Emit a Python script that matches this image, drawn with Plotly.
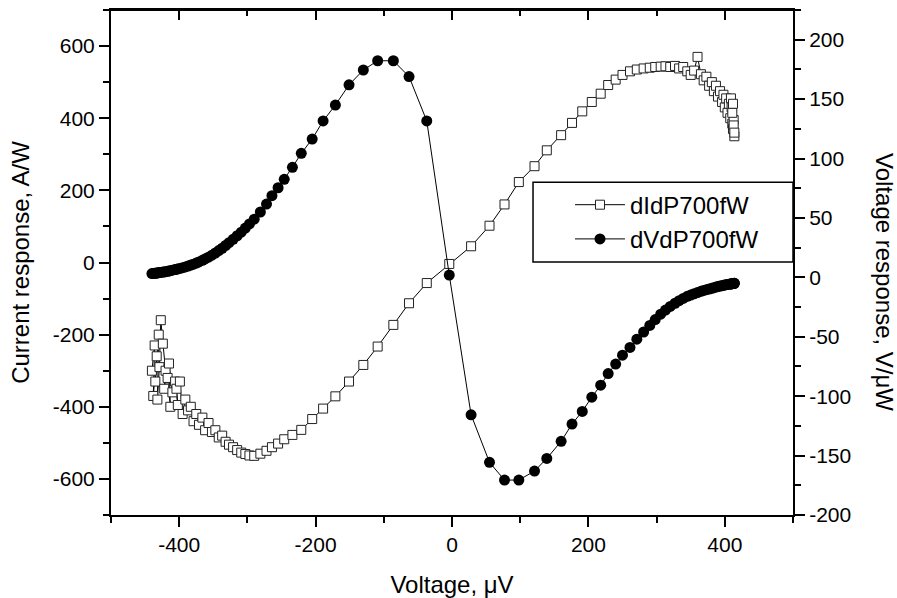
import plotly.graph_objects as go

# ---- data ----
voltage_uV = [
    -440, -436, -438, -433, -435, -430, -432, -429, -427, -424,
    -420, -422, -417, -413, -415, -410, -406, -402, -404, -399,
    -395, -391, -387, -383, -379, -375, -371, -366, -362, -357,
    -352, -347, -342, -337, -332, -327, -321, -315, -309, -303,
    -297, -290, -281, -272, -264, -255, -246, -234, -221, -205,
    -189, -171, -151, -130, -109, -86, -63, -37, -4, 28,
    55, 77, 98, 121, 139, 160, 176, 191, 205, 218,
    229, 240, 250, 261, 271, 281, 290, 298, 306, 313,
    320, 327, 333, 339, 345, 350, 355, 360, 365, 369,
    373, 377, 381, 384, 387, 390, 393, 396, 398, 400,
    402, 404, 406, 408, 409, 411, 410, 412, 413, 411,
    414, 412, 413, 414,
]

current_response_AW = [
    -300, -230, -370, -260, -330, -200, -380, -290, -160, -225,
    -300, -350, -320, -400, -280, -360, -330, -395, -350, -330,
    -420, -380, -410, -400, -440, -420, -450, -430, -465, -445,
    -470, -465, -485, -480, -497, -505, -512, -520, -527, -531,
    -535, -536, -530, -522, -512, -502, -490, -478, -464, -434,
    -405, -371, -330, -284, -233, -173, -113, -57, -4, 45,
    102, 161, 223, 267, 311, 353, 387, 419, 445, 468,
    492, 507, 520, 530, 535, 538, 540, 542, 543, 544,
    542, 545, 538, 542, 530, 520, 532, 570, 522, 505,
    515, 490, 500, 475, 490, 460, 475, 445, 465, 430,
    455, 415, 440, 400, 455, 385, 430, 370, 395, 415,
    350, 440, 380, 360,
]

voltage_response_VuW = [
    3.2, 3.4, 3.3, 3.6, 3.5, 3.9, 3.7, 4.0, 4.1, 4.4,
    4.8, 4.6, 5.1, 5.6, 5.4, 6.0, 6.6, 7.1, 6.9, 7.5,
    8.1, 8.8, 9.5, 10.3, 11.1, 12.0, 13.0, 14.3, 15.5, 17.0,
    18.7, 20.5, 22.5, 24.5, 26.8, 29.2, 32.0, 35.0, 38.0, 41.5,
    45.0, 49.0, 55.0, 61.7, 68.7, 75.4, 82.5, 92.6, 104.4, 116.4,
    131.6, 145.0, 162.0, 174.5, 182.3, 182.3, 169.0, 131.6, 1.9, -115.7,
    -155.7, -170.6, -170.6, -163.0, -152.4, -138.0, -123.5, -112.8, -100.8, -90.7,
    -81.0, -73.0, -65.5, -59.0, -52.0, -46.0, -40.5, -35.5, -31.0, -27.5,
    -24.5, -21.8, -19.6, -17.7, -16.0, -14.9, -13.8, -12.8, -11.8, -11.0,
    -10.4, -9.8, -9.2, -8.7, -8.2, -7.8, -7.3, -7.0, -6.7, -6.4,
    -6.2, -6.0, -5.8, -5.6, -5.5, -5.3, -5.4, -5.2, -5.1, -5.3,
    -5.0, -5.2, -5.1, -5.0,
]

x_ticks = [-400, -200, 0, 200, 400]
x_ticktext = ["-400", "-200", "0", "200", "400"]
y1_ticks = [-600, -400, -200, 0, 200, 400, 600]
y1_ticktext = ["-600", "-400", "-200", "0", "200", "400", "600"]
y2_ticks = [-200, -150, -100, -50, 0, 50, 100, 150, 200]
y2_ticktext = ["-200", "-150", "-100", "-50", "0", "50", "100", "150", "200"]

series_names = ["dIdP700fW", "dVdP700fW"]

FONT = "Liberation Sans, Arial, Helvetica, sans-serif"

fig = go.Figure()
fig.add_trace(go.Scatter(
    x=voltage_uV, y=current_response_AW, name=series_names[0],
    mode="lines+markers",
    line=dict(color="black", width=1),
    marker=dict(symbol="square", size=9, color="white",
                line=dict(color="#222222", width=1)),
    xaxis="x", yaxis="y",
))
fig.add_trace(go.Scatter(
    x=voltage_uV, y=voltage_response_VuW, name=series_names[1],
    mode="lines+markers",
    line=dict(color="black", width=1),
    marker=dict(symbol="circle", size=11, color="black",
                line=dict(color="black", width=0)),
    xaxis="x2", yaxis="y2",
))

axis_common = dict(showline=True, linecolor="black", linewidth=2,
                   showgrid=False, zeroline=False, tickcolor="black",
                   tickwidth=2, ticklen=10,
                   tickfont=dict(family=FONT, size=21, color="black"))

fig.update_layout(
    width=897, height=598,
    margin=dict(l=111, r=104, t=10, b=83),
    paper_bgcolor="white", plot_bgcolor="white",
    font=dict(family=FONT, size=21, color="black"),
    xaxis=dict(range=[-500, 500], tickmode="array", tickvals=x_ticks,
               ticktext=x_ticktext, ticks="outside",
               minor=dict(dtick=100, tick0=0, ticks="outside", ticklen=6,
                          tickwidth=2, tickcolor="black"),
               title=dict(text="Voltage, μV", standoff=21,
                          font=dict(family=FONT, size=24, color="black")),
               automargin=False,
               **axis_common),
    xaxis2=dict(range=[-500, 500], overlaying="x", side="top", anchor="y2",
                tickmode="array", tickvals=x_ticks, ticks="inside",
                showticklabels=False, automargin=False,
                minor=dict(dtick=100, tick0=0, ticks="inside", ticklen=6,
                           tickwidth=2, tickcolor="black"),
                **axis_common),
    yaxis=dict(range=[-700, 700], tickmode="array", tickvals=y1_ticks,
               ticktext=y1_ticktext, ticks="outside",
               minor=dict(dtick=100, tick0=0, ticks="outside", ticklen=6,
                          tickwidth=2, tickcolor="black"),
               title=dict(text="Current response, A/W", standoff=16,
                          font=dict(family=FONT, size=24, color="black")),
               automargin=False,
               **axis_common),
    yaxis2=dict(range=[-200, 225], overlaying="y", side="right", anchor="x2",
                tickmode="array", tickvals=y2_ticks, ticktext=y2_ticktext,
                ticks="outside", automargin=False,
                minor=dict(dtick=25, tick0=0, ticks="outside", ticklen=6,
                           tickwidth=2, tickcolor="black"),
                **axis_common),
    showlegend=True,
    legend=dict(x=0.673, y=0.580, xanchor="left", yanchor="middle",
                bgcolor="rgba(0,0,0,0)", borderwidth=0, itemwidth=50,
                font=dict(family=FONT, size=24, color="black"),
                tracegroupgap=0),
    shapes=[
        dict(type="rect", xref="paper", yref="paper",
             x0=0.6188, x1=1.0, y0=0.501, y1=0.659,
             line=dict(color="black", width=1.5),
             fillcolor="white", layer="above"),
        dict(type="line", xref="paper", yref="paper",
             x0=0, x1=1, y0=1, y1=1,
             line=dict(color="black", width=2), layer="above"),
    ],
    annotations=[dict(text="Voltage response, V/μW", xref="paper", yref="paper",
                      x=1.1334, y=0.4614, xanchor="center", yanchor="middle",
                      textangle=90, showarrow=False,
                      font=dict(family=FONT, size=24, color="black"))],
)

fig.write_html("out.html",
               config={"displayModeBar": False},
               post_script="document.body.style.margin='0';document.body.style.overflow='hidden';")
